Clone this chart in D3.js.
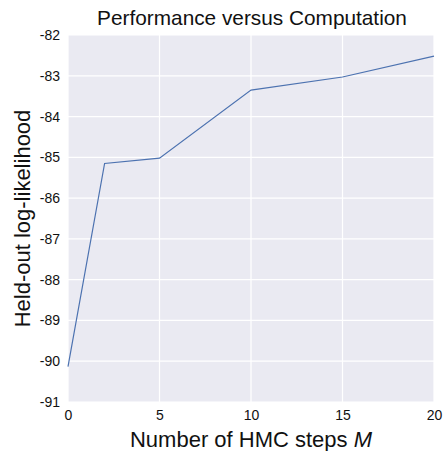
<!DOCTYPE html>
<html>
<head>
<meta charset="utf-8">
<script src="https://cdn.jsdelivr.net/npm/d3@7"></script>
<style>
  html, body { margin: 0; padding: 0; background: #fff; }
  svg text { font-family: "Liberation Sans", Arial, Helvetica, sans-serif; fill: #111; }
</style>
</head>
<body>
<svg id="chart" width="446" height="451"></svg>
<script>
const steps = [0, 2, 5, 10, 15, 20];
const logLik = [-90.13, -85.15, -85.02, -83.35, -83.03, -82.52];
const xTicks = [0, 5, 10, 15, 20];
const yTicks = [-91, -90, -89, -88, -87, -86, -85, -84, -83, -82];
const title = "Performance versus Computation";
const xLabel = "Number of HMC steps ";
const xLabelItalic = "M";
const yLabel = "Held-out log-likelihood";

const svg = d3.select("#chart");
const m = { left: 68, right: 12, top: 35, bottom: 49 };
const W = 446, H = 451;
const x = d3.scaleLinear().domain([0, 20]).range([m.left, W - m.right]);
const y = d3.scaleLinear().domain([-91, -82]).range([H - m.bottom, m.top]);

svg.append("rect")
  .attr("x", x(0)).attr("y", y(-82))
  .attr("width", x(20) - x(0)).attr("height", y(-91) - y(-82))
  .attr("fill", "#eaeaf2");

const g = svg.append("g");
g.selectAll("line.gx").data(xTicks).join("line")
  .attr("x1", d => x(d)).attr("x2", d => x(d))
  .attr("y1", y(-82)).attr("y2", y(-91))
  .attr("stroke", "#fff").attr("stroke-width", 1.2);
g.selectAll("line.gy").data(yTicks).join("line")
  .attr("y1", d => y(d)).attr("y2", d => y(d))
  .attr("x1", x(0)).attr("x2", x(20))
  .attr("stroke", "#fff").attr("stroke-width", 1.2);

const xAxis = d3.axisBottom(x).tickValues(xTicks).tickSize(0).tickPadding(8).tickFormat(d3.format("d"));
svg.append("g").attr("transform", `translate(0,${y(-91)})`).call(xAxis)
  .call(s => s.select(".domain").remove())
  .selectAll("text").attr("font-size", 14).style("fill", "#111");

const yAxis = d3.axisLeft(y).tickValues(yTicks).tickSize(0).tickPadding(8).tickFormat(d => String(d).replace("−", "-"));
svg.append("g").attr("transform", `translate(${x(0)},0)`).call(yAxis)
  .call(s => s.select(".domain").remove())
  .selectAll("text").attr("font-size", 14).style("fill", "#111");

const line = d3.line().x((d, i) => x(steps[i])).y(d => y(d));
svg.append("path").datum(logLik)
  .attr("d", line).attr("fill", "none")
  .attr("stroke", "#4c72b0").attr("stroke-width", 1.2);

svg.append("text").attr("x", (x(0) + x(20)) / 2 + 1).attr("y", 25)
  .attr("text-anchor", "middle").attr("font-size", 20.8).text(title);

const xl = svg.append("text").attr("x", (x(0) + x(20)) / 2).attr("y", 447)
  .attr("text-anchor", "middle").attr("font-size", 22);
xl.append("tspan").text(xLabel);
xl.append("tspan").attr("font-style", "italic").text(xLabelItalic);

svg.append("text").attr("transform", `translate(30,${(y(-82) + y(-91)) / 2}) rotate(-90)`)
  .attr("text-anchor", "middle").attr("font-size", 22).text(yLabel);
</script>
</body>
</html>
